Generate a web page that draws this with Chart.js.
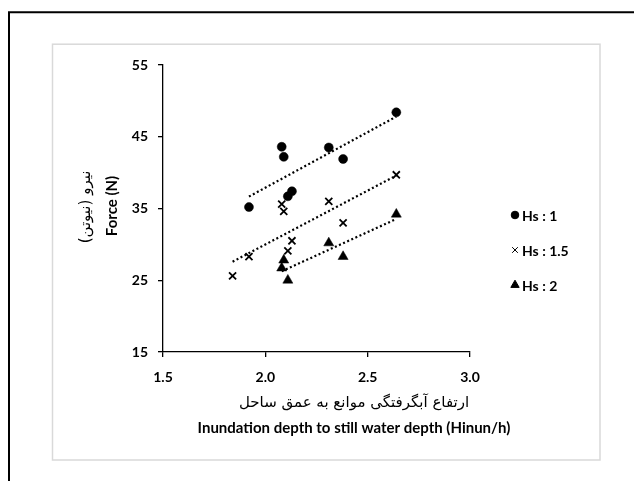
<!DOCTYPE html>
<html>
<head>
<meta charset="utf-8">
<script src="https://cdn.jsdelivr.net/npm/chart.js@4.4.0/dist/chart.umd.min.js"></script>
<style>
  html, body { margin: 0; padding: 0; background: #fff; }
  #wrap { width: 634px; height: 481px; position: relative; }
</style>
</head>
<body>
<div id="wrap"><canvas id="force-chart"></canvas></div>
<script>
/* Wave force vs. inundation ratio, with linear trendlines per wave height */

const xTicks = [1.5, 2.0, 2.5, 3.0];
const yTicks = [15, 25, 35, 45, 55];
const seriesNames = ['Hs : 1', 'Hs : 1.5', 'Hs : 2'];

const hs1X = [1.92, 2.08, 2.09, 2.11, 2.13, 2.31, 2.38, 2.64];
const hs1Y = [35.2, 43.6, 42.2, 36.7, 37.4, 43.5, 41.9, 48.4];

const hs15X = [1.84, 1.92, 2.08, 2.09, 2.11, 2.13, 2.31, 2.38, 2.64];
const hs15Y = [25.6, 28.3, 35.6, 34.6, 29.1, 30.5, 36.0, 33.0, 39.7];

const hs2X = [2.08, 2.09, 2.11, 2.31, 2.38, 2.64];
const hs2Y = [26.7, 27.8, 25.0, 30.2, 28.3, 34.2];

const yTitleFa = 'نیرو (نیوتن)';
const yTitleEn = 'Force (N)';
const xTitleFa = 'ارتفاع آبگرفتگی موانع به عمق ساحل';
const xTitleEn = 'Inundation depth to still water depth (Hinun/h)';

const LATO = 'Lato, Carlito, Calibri, sans-serif';

function toPoints(xs, ys) {
    return xs.map((x, i) => ({ x: x, y: ys[i] }));
}

// least-squares line over the x-range of the series
function trend(xs, ys) {
    const n = xs.length;
    const mx = xs.reduce((a, b) => a + b, 0) / n;
    const my = ys.reduce((a, b) => a + b, 0) / n;
    let sxy = 0, sxx = 0;
    xs.forEach((x, i) => {
        sxy += (x - mx) * (ys[i] - my);
        sxx += (x - mx) * (x - mx);
    });
    const k = sxy / sxx;
    const x0 = Math.min(...xs), x1 = Math.max(...xs);
    return [{ x: x0, y: my + k * (x0 - mx) }, { x: x1, y: my + k * (x1 - mx) }];
}

const markers = [
    { pointStyle: 'circle', radius: 4.5, borderWidth: 0.5 },
    { pointStyle: 'crossRot', radius: 5, borderWidth: 1.8 },
    { pointStyle: 'triangle', radius: 5.8, borderWidth: 0.5 }
];

const seriesX = [hs1X, hs15X, hs2X];
const seriesY = [hs1Y, hs15Y, hs2Y];

const datasets = [];
seriesNames.forEach((name, i) => {
    datasets.push({
        label: name,
        data: toPoints(seriesX[i], seriesY[i]),
        pointStyle: markers[i].pointStyle,
        pointRadius: markers[i].radius,
        pointBorderWidth: markers[i].borderWidth,
        backgroundColor: '#000',
        borderColor: '#000',
        showLine: false,
        order: 0
    });
});
seriesNames.forEach((name, i) => {
    datasets.push({
        label: 'trend ' + name,
        data: trend(seriesX[i], seriesY[i]),
        showLine: true,
        borderColor: '#000',
        borderWidth: 2.2,
        borderDash: [2, 2.5],
        pointRadius: 0,
        order: 1
    });
});

const decorations = {
    id: 'decorations',
    beforeDraw(chart) {
        const { ctx } = chart;
        ctx.save();
        ctx.fillStyle = '#fff';
        ctx.fillRect(0, 0, chart.width, chart.height);

        // light chart border
        ctx.strokeStyle = '#d9d9d9';
        ctx.lineWidth = 1.5;
        ctx.strokeRect(52.5, 44.2, 547.5, 415.8);

        // black frame on top and left
        ctx.strokeStyle = '#000';
        ctx.lineWidth = 2;
        ctx.beginPath();
        ctx.moveTo(9, chart.height);
        ctx.lineTo(9, 12.3);
        ctx.lineTo(chart.width, 12.3);
        ctx.stroke();
        ctx.restore();
    },
    afterDraw(chart) {
        const { ctx } = chart;
        ctx.save();
        ctx.fillStyle = '#000';
        ctx.textAlign = 'center';
        ctx.textBaseline = 'middle';

        // axis titles
        ctx.font = '15px "DejaVu Sans"';
        ctx.direction = 'rtl';
        ctx.fillText(xTitleFa, 354, 403);
        ctx.save();
        ctx.translate(86, 207);
        ctx.rotate(-Math.PI / 2);
        ctx.fillText(yTitleFa, 0, 0);
        ctx.restore();

        ctx.direction = 'ltr';
        ctx.font = 'bold 15px ' + LATO;
        ctx.fillText(xTitleEn, 354, 428);
        ctx.save();
        ctx.translate(112, 206);
        ctx.rotate(-Math.PI / 2);
        ctx.fillText(yTitleEn, 0, 0);
        ctx.restore();

        // legend
        ctx.textAlign = 'left';
        ctx.font = 'bold 14px ' + LATO;
        const rows = [215, 250, 285];
        const legendSizes = [3.8, 4, 4.8];
        seriesNames.forEach((name, i) => {
            ctx.fillStyle = '#000';
            ctx.strokeStyle = '#000';
            Chart.helpers.drawPoint(ctx, {
                pointStyle: markers[i].pointStyle,
                radius: legendSizes[i],
                rotation: 0,
                borderWidth: i === 1 ? 1.6 : 0.5
            }, 515, rows[i]);
            ctx.fillText(name, 522, rows[i] + 1);
        });
        ctx.restore();
    }
};

const tickFont = { family: LATO, size: 14, weight: 'bold' };

new Chart(document.getElementById('force-chart'), {
    type: 'scatter',
    data: { datasets: datasets },
    options: {
        responsive: true,
        maintainAspectRatio: false,
        animation: false,
        layout: { padding: { left: 103, top: 65, right: 164, bottom: 0 } },
        plugins: {
            legend: { display: false },
            tooltip: { enabled: false }
        },
        scales: {
            x: {
                type: 'linear',
                min: xTicks[0],
                max: xTicks[xTicks.length - 1],
                afterBuildTicks: (s) => { s.ticks = xTicks.map(v => ({ value: v })); },
                afterFit: (s) => { s.height = 129; },
                grid: { drawOnChartArea: false, drawTicks: true, tickLength: 5, color: '#000', lineWidth: 1.3 },
                border: { display: true, color: '#000', width: 1.3 },
                ticks: { color: '#000', font: tickFont, padding: 12, callback: (v) => v.toFixed(1) }
            },
            y: {
                type: 'linear',
                min: yTicks[0],
                max: yTicks[yTicks.length - 1],
                afterBuildTicks: (s) => { s.ticks = yTicks.map(v => ({ value: v })); },
                afterFit: (s) => { s.width = 60; },
                grid: { drawOnChartArea: false, drawTicks: true, tickLength: 5, color: '#000', lineWidth: 1.3 },
                border: { display: true, color: '#000', width: 1.3 },
                ticks: { color: '#000', font: tickFont, padding: 10 }
            }
        }
    },
    plugins: [decorations]
});
</script>
</body>
</html>
